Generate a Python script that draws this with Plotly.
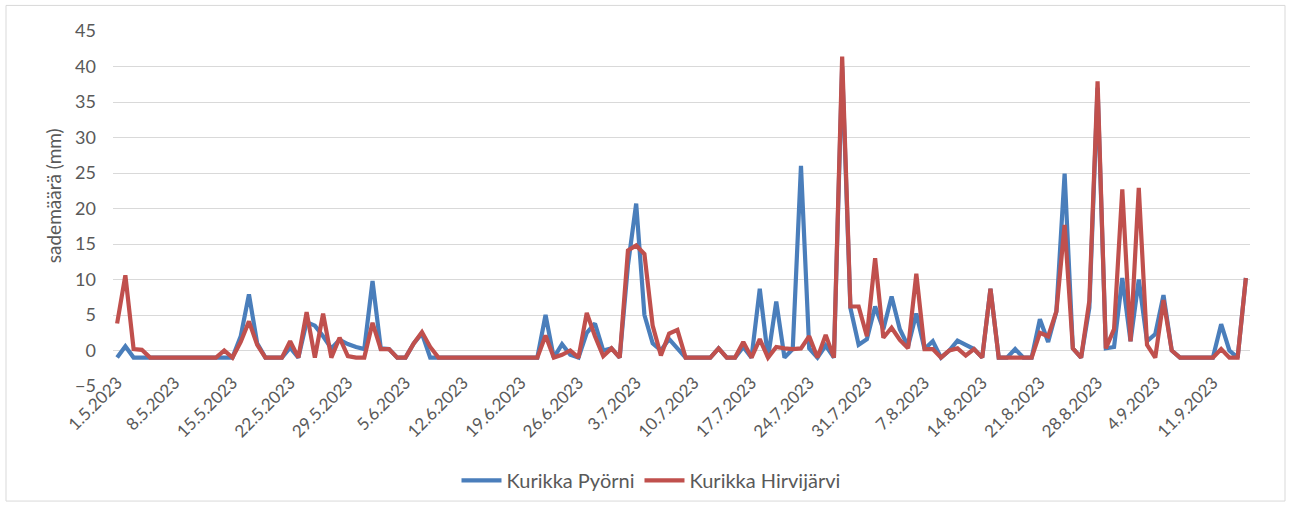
import pandas as pd
import plotly.graph_objects as go

# Daily precipitation (mm), 1.5.2023 - 15.9.2023; -1 marks days without a reading
start_date = "2023-05-01"
n_days = 138

pyorni = [
    -1, 0.6, -1, -1, -1, -1, -1,
    -1, -1, -1, -1, -1, -1, -1,
    -1, 2.0, 7.9, 1.0, -1, -1, -1,
    0.4, -1, 4.0, 3.5, 2.0, 0.3, 1.5,
    0.9, 0.5, 0.2, 9.8, 0.3, 0.2, -1,
    -1, 1.0, 2.4, -1, -1, -1, -1,
    -1, -1, -1, -1, -1, -1, -1,
    -1, -1, -1, 5.0, -1, 0.9, -0.6,
    -1, 2.5, 3.8, 0.0, 0.3, -1, 12.0,
    20.7, 5.0, 1.0, 0.0, 1.6, 0.3, -1,
    -1, -1, -1, 0.3, -1, -1, 0.5,
    -1, 8.7, -1, 6.9, -1, 0.2, 26.0,
    0.3, -1, 0.7, -1, 40.0, 6.0, 0.8,
    1.6, 6.2, 3.0, 7.6, 3.0, 0.6, 5.2,
    0.2, 1.3, -1, 0.0, 1.4, 0.8, 0.2,
    -1, 8.7, -1, -1, 0.2, -1, -1,
    4.4, 1.2, 5.5, 24.9, 0.3, -1, 6.0,
    37.0, 0.3, 0.5, 10.2, 1.3, 10.0, 1.3,
    2.3, 7.8, 0.0, -1, -1, -1, -1,
    -1, 3.7, 0.0, -1, 10.2,
]

hirvijarvi = [
    3.8, 10.6, 0.2, 0.1, -1, -1, -1,
    -1, -1, -1, -1, -1, -1, 0.0,
    -1, 1.2, 4.1, 0.8, -1, -1, -1,
    1.3, -1, 5.4, -1, 5.2, -1, 1.8,
    -0.8, -1, -1, 3.9, 0.2, 0.2, -1,
    -1, 1.0, 2.6, 0.5, -1, -1, -1,
    -1, -1, -1, -1, -1, -1, -1,
    -1, -1, -1, 2.1, -1, -0.6, 0.0,
    -1, 5.3, 2.0, -0.8, 0.3, -1, 14.1,
    14.8, 13.6, 3.5, -0.7, 2.4, 2.9, -1,
    -1, -1, -1, 0.3, -1, -1, 1.2,
    -1, 1.6, -1, 0.5, 0.3, 0.2, 0.3,
    2.0, -1, 2.2, -1, 41.4, 6.2, 6.2,
    2.0, 13.0, 1.8, 3.2, 1.5, 0.3, 10.8,
    0.2, 0.2, -1, 0.0, 0.3, -0.7, 0.2,
    -1, 8.7, -1, -1, -1, -1, -1,
    2.5, 2.0, 5.5, 17.7, 0.3, -1, 7.0,
    37.9, 0.3, 3.0, 22.7, 1.3, 22.9, 0.8,
    -1, 7.1, 0.0, -1, -1, -1, -1,
    -1, 0.2, -1, -1, 10.2,
]

dates = pd.date_range(start_date, periods=n_days, freq="D")
day_labels = [f"{d.day}.{d.month}.{d.year}" for d in dates]
tick_labels = day_labels[::7]

series_names = ["Kurikka Pyörni", "Kurikka Hirvijärvi"]
series_colors = ["#4A7EBB", "#C0504D"]

FONT = "Lato"
TEXT_COLOR = "#595959"
GRID_COLOR = "#D9D9D9"

fig = go.Figure()
for name, values, color in zip(series_names, [pyorni, hirvijarvi], series_colors):
    fig.add_trace(go.Scatter(
        x=day_labels, y=values, name=name, mode="lines",
        line=dict(color=color, width=4.2),
    ))

W, H = 1290, 512
ML, MR, MT, MB = 113, 40, 31, 120
pw, ph = W - ML - MR, H - MT - MB

def px_to_paper(xp, yp):
    return (xp - ML) / pw, (H - MB - yp) / ph

# outer chart frame
x0, y1 = px_to_paper(6, 5)
x1, y0 = px_to_paper(1285, 509)
fig.add_shape(type="rect", xref="paper", yref="paper", x0=x0, x1=x1, y0=y0, y1=y1,
              line=dict(color=GRID_COLOR, width=1), fillcolor="rgba(0,0,0,0)", layer="below")

# y-axis title
tx, ty = px_to_paper(53, 199)
fig.add_annotation(text="sademäärä (mm)", xref="paper", yref="paper", x=tx, y=ty,
                   xanchor="center", yanchor="middle",
                   textangle=-90, showarrow=False,
                   font=dict(family=FONT, size=19, color=TEXT_COLOR))

y_min, y_max = -5, 45
lx, ly = px_to_paper(651, 488)

fig.update_layout(
    width=W, height=H,
    margin=dict(l=ML, r=MR, t=MT, b=MB),
    paper_bgcolor="white", plot_bgcolor="white",
    font=dict(family=FONT, size=17, color=TEXT_COLOR),
    showlegend=True,
    legend=dict(orientation="h", x=lx, y=ly, xanchor="center", yanchor="middle",
                font=dict(family=FONT, size=20, color=TEXT_COLOR),
                itemwidth=40, traceorder="normal"),
    xaxis=dict(
        type="category", range=[-0.5, n_days - 0.5],
        tickmode="array", tickvals=tick_labels, ticktext=tick_labels,
        tickangle=-45, showgrid=False, showline=False, ticks="",
        anchor="free", position=(0 - y_min) / (y_max - y_min),
        ticklabelstandoff=18,
        tickfont=dict(family=FONT, size=17, color=TEXT_COLOR),
    ),
    yaxis=dict(
        range=[y_min, y_max], dtick=5, tick0=0,
        showgrid=True, gridcolor=GRID_COLOR, gridwidth=1,
        zeroline=False, showline=False, ticks="",
        ticklabelstandoff=16,
        tickfont=dict(family=FONT, size=18, color=TEXT_COLOR),
    ),
)

fig.write_html("out.html")
